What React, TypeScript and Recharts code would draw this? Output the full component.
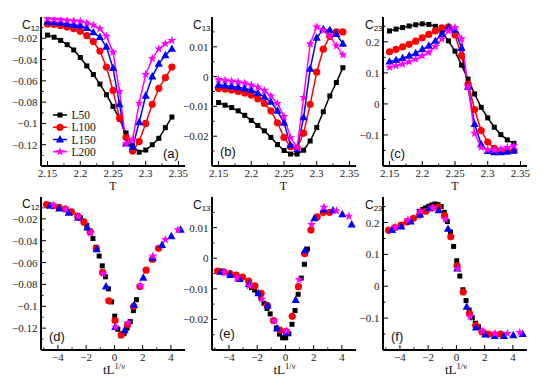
import React from 'react';
import { LineChart, Line, ScatterChart, Scatter, XAxis, YAxis } from 'recharts';

// temperatures of the runs (same grid for every lattice size)
const temps = [2.15, 2.16, 2.17, 2.18, 2.19, 2.2, 2.21, 2.22, 2.23, 2.24, 2.25, 2.26, 2.27, 2.28, 2.29, 2.3, 2.31, 2.32, 2.33, 2.34];

// C12 vs T
const c12L50 = [-0.017, -0.019, -0.022, -0.026, -0.031, -0.038, -0.046, -0.054, -0.063, -0.073, -0.084, -0.096, -0.109, -0.121, -0.127, -0.125, -0.12, -0.114, -0.104, -0.094];
const c12L100 = [-0.0065, -0.007, -0.008, -0.0095, -0.011, -0.0135, -0.0175, -0.023, -0.032, -0.047, -0.069, -0.095, -0.113, -0.126, -0.117, -0.1, -0.082, -0.067, -0.057, -0.047];
const c12L150 = [-0.0045, -0.005, -0.0055, -0.0065, -0.0075, -0.008, -0.0105, -0.0145, -0.019, -0.028, -0.048, -0.082, -0.119, -0.122, -0.099, -0.074, -0.056, -0.044, -0.036, -0.03];
const c12L200 = [-0.0015, -0.002, -0.0025, -0.003, -0.0035, -0.004, -0.0055, -0.0075, -0.011, -0.018, -0.033, -0.07, -0.119, -0.115, -0.081, -0.054, -0.039, -0.03, -0.025, -0.022];

// C13 vs T
const c13L50 = [-0.0087, -0.0096, -0.0104, -0.0115, -0.013, -0.0147, -0.0164, -0.0182, -0.0204, -0.0228, -0.0248, -0.026, -0.026, -0.0247, -0.0216, -0.0171, -0.0118, -0.0065, -0.002, 0.003];
const c13L100 = [-0.004, -0.0042, -0.0045, -0.005, -0.0055, -0.0062, -0.0075, -0.009, -0.0115, -0.0155, -0.0204, -0.0235, -0.024, -0.019, -0.0093, 0.0015, 0.0092, 0.0135, 0.015, 0.015];
const c13L150 = [-0.0028, -0.003, -0.0033, -0.0036, -0.004, -0.0045, -0.0055, -0.0068, -0.0085, -0.0115, -0.0155, -0.023, -0.0244, -0.0137, 0.0026, 0.013, 0.0159, 0.0156, 0.0143, 0.011];
const c13L200 = [-0.001, -0.0012, -0.0015, -0.0018, -0.0022, -0.0028, -0.0035, -0.0047, -0.0065, -0.009, -0.0134, -0.0205, -0.0238, -0.007, 0.011, 0.0167, 0.0155, 0.0137, 0.0103, 0.0073];

// C23 vs T
const c23L50 = [0.235, 0.241, 0.246, 0.251, 0.255, 0.258, 0.256, 0.25, 0.232, 0.203, 0.17, 0.125, 0.08, 0.032, -0.011, -0.045, -0.075, -0.099, -0.116, -0.127];
const c23L100 = [0.168, 0.176, 0.184, 0.192, 0.202, 0.213, 0.224, 0.235, 0.245, 0.248, 0.222, 0.155, 0.064, -0.018, -0.086, -0.123, -0.143, -0.15, -0.152, -0.15];
const c23L150 = [0.136, 0.141, 0.147, 0.155, 0.163, 0.176, 0.187, 0.203, 0.225, 0.245, 0.238, 0.18, 0.055, -0.065, -0.13, -0.152, -0.156, -0.156, -0.154, -0.15];
const c23L200 = [0.118, 0.123, 0.128, 0.136, 0.144, 0.155, 0.166, 0.185, 0.209, 0.235, 0.246, 0.21, 0.055, -0.095, -0.14, -0.148, -0.148, -0.145, -0.14, -0.135];

// scaling variable tL^(1/nu) for each temperature above (Tc = 2.269, nu = 1)
const scaledL50 = [-2.622, -2.402, -2.182, -1.961, -1.741, -1.52, -1.3, -1.08, -0.859, -0.639, -0.419, -0.198, 0.022, 0.242, 0.463, 0.683, 0.903, 1.124, 1.344, 1.565];
const scaledL100 = [-5.245, -4.804, -4.363, -3.922, -3.482, -3.041, -2.6, -2.16, -1.719, -1.278, -0.837, -0.397, 0.044, 0.485, 0.926, 1.366, 1.807, 2.248, 2.688, 3.129];
const scaledL150 = [-7.867, -7.206, -6.545, -5.884, -5.223, -4.561, -3.9, -3.239, -2.578, -1.917, -1.256, -0.595, 0.066, 0.727, 1.388, 2.049, 2.71, 3.372, 4.033, 4.694];
const scaledL200 = [-10.489, -9.608, -8.726, -7.845, -6.963, -6.082, -5.201, -4.319, -3.438, -2.556, -1.675, -0.793, 0.088, 0.97, 1.851, 2.732, 3.614, 4.495, 5.377, 6.258];

const sizeNames = ['L50', 'L100', 'L150', 'L200'];
const scaledX = [scaledL50, scaledL100, scaledL150, scaledL200];

// tick values
const tMajor = [2.15, 2.2, 2.25, 2.3, 2.35];
const tMinor = [2.175, 2.225, 2.275, 2.325];
const sMajor = [-4, -2, 0, 2, 4];
const sMinor = [-5, -3, -1, 1, 3];
const c12Major = [-0.12, -0.1, -0.08, -0.06, -0.04, -0.02];
const c12Minor = [-0.13, -0.11, -0.09, -0.07, -0.05, -0.03, -0.01];
const c13Major = [-0.02, -0.01, 0, 0.01];
const c13Minor = [-0.025, -0.015, -0.005, 0.005, 0.015];
const c23Major = [-0.1, 0, 0.1, 0.2];
const c23Minor = [-0.15, -0.05, 0.05, 0.15, 0.25];

const looks = [
  { color: '#000000', kind: 'square' },
  { color: '#ff0000', kind: 'circle' },
  { color: '#0000ff', kind: 'triangle' },
  { color: '#ff00ff', kind: 'star' },
];

const quantities = [
  { sub: '12', series: [c12L50, c12L100, c12L150, c12L200], yDomain: [-0.14, 0], yMajor: c12Major, yMinor: c12Minor },
  { sub: '13', series: [c13L50, c13L100, c13L150, c13L200], yDomain: [-0.03, 0.02], yMajor: c13Major, yMinor: c13Minor },
  { sub: '23', series: [c23L50, c23L100, c23L150, c23L200], yDomain: [-0.2, 0.28], yMajor: c23Major, yMinor: c23Minor },
];

const plotLefts = [41, 211.5, 383];
const tDomain = [2.14, 2.36];
const sDomain = [-5.2, 5.0];

const SERIF = '"Liberation Serif", "DejaVu Serif", serif';
const SANS = '"Liberation Sans", Arial, sans-serif';

function fmt(v: number) {
  const s = String(Number(v.toFixed(4)));
  return v < 0 ? '\u2212' + s.slice(1) : s;
}

function Marker({ kind, cx, cy, color }: { kind: string; cx?: number; cy?: number; color: string }) {
  if (cx == null || cy == null || isNaN(cx) || isNaN(cy)) return null;
  if (kind === 'square') return <rect x={cx - 2.5} y={cy - 2.5} width={5} height={5} fill={color} />;
  if (kind === 'circle') return <circle cx={cx} cy={cy} r={3.6} fill={color} />;
  if (kind === 'triangle')
    return <polygon points={`${cx},${cy - 4.5} ${cx + 4.1},${cy + 2.9} ${cx - 4.1},${cy + 2.9}`} fill={color} />;
  const pts: string[] = [];
  for (let i = 0; i < 10; i++) {
    const r = i % 2 === 0 ? 4.7 : 1.9;
    const a = -Math.PI / 2 + (i * Math.PI) / 5;
    pts.push(`${cx + r * Math.cos(a)},${cy + r * Math.sin(a)}`);
  }
  return <polygon points={pts.join(' ')} fill={color} />;
}

// inward ticks on every side, labels only on the left / bottom
function axisTick(side: string, majors: number[], labels: boolean) {
  return (props: any) => {
    const { x, y, payload, index } = props;
    const v = payload.value;
    const big = majors.some((m) => Math.abs(m - v) < 1e-9);
    const len = big ? 5 : 2.5;
    let x2 = x;
    let y2 = y;
    if (side === 'bottom') y2 = y - len;
    if (side === 'top') y2 = y + len;
    if (side === 'left') x2 = x + len;
    if (side === 'right') x2 = x - len;
    return (
      <g key={`${side}-${index}`}>
        <line x1={x} y1={y} x2={x2} y2={y2} stroke="#000" strokeWidth={1} />
        {labels && big && side === 'bottom' && (
          <text x={x} y={y + 10.5} textAnchor="middle" fontFamily={SERIF} fontSize={11} fill="#222">
            {fmt(v)}
          </text>
        )}
        {labels && big && side === 'left' && (
          <text x={x - 3.5} y={y + 4} textAnchor="end" fontFamily={SERIF} fontSize={11} fill="#222">
            {fmt(v)}
          </text>
        )}
      </g>
    );
  };
}

const frame = { stroke: '#000', strokeWidth: 2 };

function axes(xDomain: number[], xMajor: number[], xMinor: number[], yDomain: number[], yMajor: number[], yMinor: number[], xKey: string, xHeight: number, yKey?: string) {
  const xt = [...xMajor, ...xMinor].sort((a, b) => a - b);
  const yt = [...yMajor, ...yMinor].sort((a, b) => a - b);
  return [
    <XAxis key="xb" xAxisId="b" type="number" dataKey={xKey} domain={xDomain} ticks={xt} interval={0} allowDataOverflow
      height={xHeight} tickSize={0} tickMargin={0} tickLine={false} axisLine={frame} tick={axisTick('bottom', xMajor, true)} />,
    <XAxis key="xt" xAxisId="t" orientation="top" type="number" domain={xDomain} ticks={xt} interval={0} allowDataOverflow
      height={0} tickSize={0} tickMargin={0} tickLine={false} axisLine={frame} tick={axisTick('top', xMajor, false)} />,
    <YAxis key="yl" yAxisId="l" type="number" dataKey={yKey} domain={yDomain} ticks={yt} interval={0} allowDataOverflow
      width={45} tickSize={0} tickMargin={0} tickLine={false} axisLine={frame} tick={axisTick('left', yMajor, true)} />,
    <YAxis key="yr" yAxisId="r" orientation="right" type="number" domain={yDomain} ticks={yt} interval={0} allowDataOverflow
      width={0} tickSize={0} tickMargin={0} tickLine={false} axisLine={frame} tick={axisTick('right', yMajor, false)} />,
  ];
}

function TopPanel({ q, left }: { q: (typeof quantities)[number]; left: number }) {
  const rows = temps.map((t, i) => {
    const row: Record<string, number> = { T: t };
    sizeNames.forEach((n, k) => (row[n] = q.series[k][i]));
    return row;
  });
  return (
    <div style={{ position: 'absolute', left: left - 45, top: 0 }}>
      <LineChart width={194} height={196} data={rows} margin={{ top: 17, right: 5, bottom: 0, left: 0 }}>
        {axes(tDomain, tMajor, tMinor, q.yDomain, q.yMajor, q.yMinor, 'T', 30)}
        {sizeNames.map((n, k) => (
          <Line key={n} xAxisId="b" yAxisId="l" dataKey={n} stroke={looks[k].color} strokeWidth={1.5}
            isAnimationActive={false}
            dot={(p: any) => <Marker key={`${n}-${p.index}`} kind={looks[k].kind} cx={p.cx} cy={p.cy} color={looks[k].color} />} />
        ))}
      </LineChart>
    </div>
  );
}

function BottomPanel({ q, left }: { q: (typeof quantities)[number]; left: number }) {
  return (
    <div style={{ position: 'absolute', left: left - 45, top: 180 }}>
      <ScatterChart width={194} height={197} margin={{ top: 17, right: 5, bottom: 0, left: 0 }}>
        {axes(sDomain, sMajor, sMinor, q.yDomain, q.yMajor, q.yMinor, 'x', 27, 'y')}
        {sizeNames.map((n, k) => {
          const pts = scaledX[k]
            .map((x, i) => ({ x, y: q.series[k][i] }))
            .filter((p) => p.x >= sDomain[0] && p.x <= sDomain[1]);
          return (
            <Scatter key={n} name={n} data={pts} xAxisId="b" yAxisId="l" fill={looks[k].color} isAnimationActive={false}
              shape={(p: any) => <Marker kind={looks[k].kind} cx={p.cx} cy={p.cy} color={looks[k].color} />} />
          );
        })}
      </ScatterChart>
    </div>
  );
}

const cLabelPos = [
  { x: 22, yTop: 28.5, yBottom: 208 },
  { x: 193, yTop: 28.5, yBottom: 209 },
  { x: 365, yTop: 28.5, yBottom: 209 },
];
const tags = [
  { text: '(a)', x: 163, y: 158 },
  { text: '(b)', x: 220, y: 156 },
  { text: '(c)', x: 390, y: 158 },
  { text: '(d)', x: 49, y: 341 },
  { text: '(e)', x: 219, y: 338 },
  { text: '(f)', x: 391, y: 341 },
];
const legendRows = [115, 127.3, 139.5, 151.7];

function Overlay() {
  return (
    <svg width={545} height={377} style={{ position: 'absolute', left: 0, top: 0, pointerEvents: 'none' }}>
      {quantities.map((q, i) => (
        <g key={q.sub}>
          <text x={cLabelPos[i].x} y={cLabelPos[i].yTop} fontFamily={SANS} fontSize={12} fill="#111">
            C<tspan fontSize={8} dy={2}>{q.sub}</tspan>
          </text>
          <text x={cLabelPos[i].x} y={cLabelPos[i].yBottom} fontFamily={SANS} fontSize={12} fill="#111">
            C<tspan fontSize={8} dy={2}>{q.sub}</tspan>
          </text>
          <text x={plotLefts[i] + 72} y={190} textAnchor="middle" fontFamily={SERIF} fontSize={12} fill="#111">
            T
          </text>
          <text x={plotLefts[i] + 73} y={374} textAnchor="middle" fontFamily={SERIF} fontSize={13} fill="#111">
            tL<tspan fontSize={8.5} dy={-5.5}>1/ν</tspan>
          </text>
        </g>
      ))}
      {tags.map((t) => (
        <text key={t.text} x={t.x} y={t.y} fontFamily={SANS} fontSize={13} fill="#111">
          {t.text}
        </text>
      ))}
      {sizeNames.map((n, k) => (
        <g key={n}>
          <line x1={53} x2={67} y1={legendRows[k]} y2={legendRows[k]} stroke={looks[k].color} strokeWidth={1.5} />
          <Marker kind={looks[k].kind} cx={60} cy={legendRows[k]} color={looks[k].color} />
          <text x={71.5} y={legendRows[k] + 4} fontFamily={SERIF} fontSize={11.5} fill="#111">
            {n}
          </text>
        </g>
      ))}
    </svg>
  );
}

export default function App() {
  return (
    <div style={{ position: 'absolute', left: 0, top: 0, width: 545, height: 377, background: '#fff', overflow: 'hidden' }}>
      {quantities.map((q, i) => (
        <TopPanel key={`top-${q.sub}`} q={q} left={plotLefts[i]} />
      ))}
      {quantities.map((q, i) => (
        <BottomPanel key={`bot-${q.sub}`} q={q} left={plotLefts[i]} />
      ))}
      <Overlay />
    </div>
  );
}
